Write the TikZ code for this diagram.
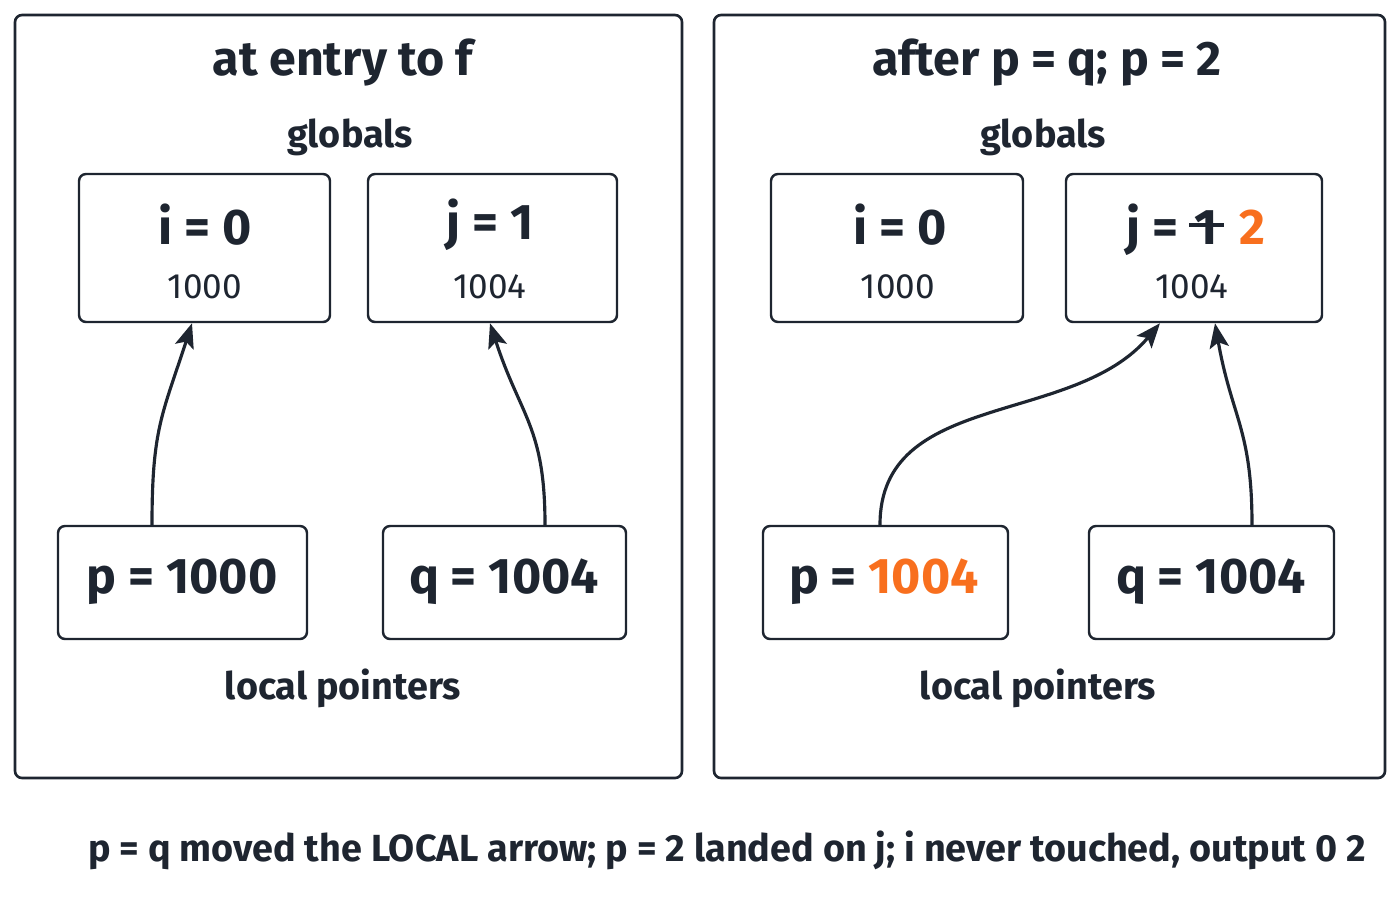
\documentclass[tikz,border=0pt]{standalone}
\usepackage{fontspec}
\setmainfont{Fira Sans}
\usetikzlibrary{arrows.meta,positioning}
\definecolor{ink}{HTML}{1E2530}
\definecolor{accent}{HTML}{F86F1E}

\tikzset{
  panel/.style={draw=ink,line width=1.5pt,rounded corners=4pt},
  cell/.style 2 args={draw=ink,line width=1.4pt,rounded corners=4pt,
    minimum width={#1*0.02cm},minimum height={#2*0.02cm}},
  big/.style={font=\fontsize{28.5}{32}\selectfont\bfseries,text=ink},
  mid/.style={font=\fontsize{21.5}{25}\selectfont\bfseries,text=ink},
  addr/.style={font=\fontsize{20}{24}\selectfont,text=ink},
  title/.style={font=\fontsize{27.5}{32}\selectfont\bfseries,text=ink},
  ptr/.style={ink,line width=1.8pt,-{Stealth[length=14pt,width=11pt,inset=3pt]}}
}

\begin{document}
\begin{tikzpicture}[x=0.02cm,y=-0.02cm]
\useasboundingbox (0,0) rectangle (1400,900);

% panels
\draw[panel] (15,15) rectangle (682,778);
\draw[panel] (714,15) rectangle (1385,778);

% left panel
\node[title] (ltitle) at (343,63) {at entry to f};
\node[mid] (lglob) at (350,137) {globals};
\node[cell={251}{148}] (li) at (204.5,248) {};
\node[cell={249}{148}] (lj) at (492.5,248) {};
\node[big] at (205,225) {i = 0};
\node[addr] at (205,287) {1000};
\node[big] at (490,225) {j = 1};
\node[addr] at (490,287) {1004};
\node[cell={249}{113}] (lp) at (182.5,582.5) {};
\node[cell={243}{113}] (lq) at (504.5,582.5) {};
\node[big] at (182,582) {p = 1000};
\node[big] at (504,582) {q = 1004};
\node[mid] (lloc) at (343,688) {local pointers};
\draw[ptr] (lp.north -| 152,0) to[out=90,in=-108,looseness=1.2] (li.south -| 192,0);
\draw[ptr] (lq.north -| 545,0) to[out=90,in=-72,looseness=1.2] (lj.south -| 490,0);

% right panel
\node[title] (rtitle) at (1047,63) {after p = q; p = 2};
\node[mid] (rglob) at (1043,137) {globals};
\node[cell={252}{148}] (ri) at (897,248) {};
\node[cell={256}{148}] (rj) at (1194,248) {};
\node[big] at (900,225) {i = 0};
\node[addr] at (898,287) {1000};
\node[big,anchor=base west,inner sep=0] (jeq) at (1126,244) {j =};
\node[big,anchor=base west,inner sep=0] (jold) at ([xshift=9]jeq.base east) {1};
\node[big,anchor=base west,inner sep=0,text=accent] (jnew) at ([xshift=12]jold.base east) {2};
\draw[ink,line width=2.4pt] ([xshift=-3,yshift=11pt]jold.base west) -- ([xshift=3,yshift=11pt]jold.base east);
\node[addr] at (1192,287) {1004};
\node[cell={245}{113}] (rp) at (885.5,582.5) {};
\node[cell={245}{113}] (rq) at (1211.5,582.5) {};
\node[big] at (884,582) {p = \textcolor{accent}{1004}};
\node[big] at (1211,582) {q = 1004};
\node[mid] (rloc) at (1038,688) {local pointers};
\draw[ptr] (rp.north -| 880,0) to[out=90,in=-130] (rj.south -| 1160,0);
\draw[ptr] (rq.north -| 1252,0) to[out=90,in=-80,looseness=1.2] (rj.south -| 1215,0);

% caption
\node[mid,font=\fontsize{21.5}{25}\selectfont\bfseries] (note) at (727,850) {p = q moved the LOCAL arrow; p = 2 landed on j; i never touched, output 0 2};
\end{tikzpicture}
\end{document}
